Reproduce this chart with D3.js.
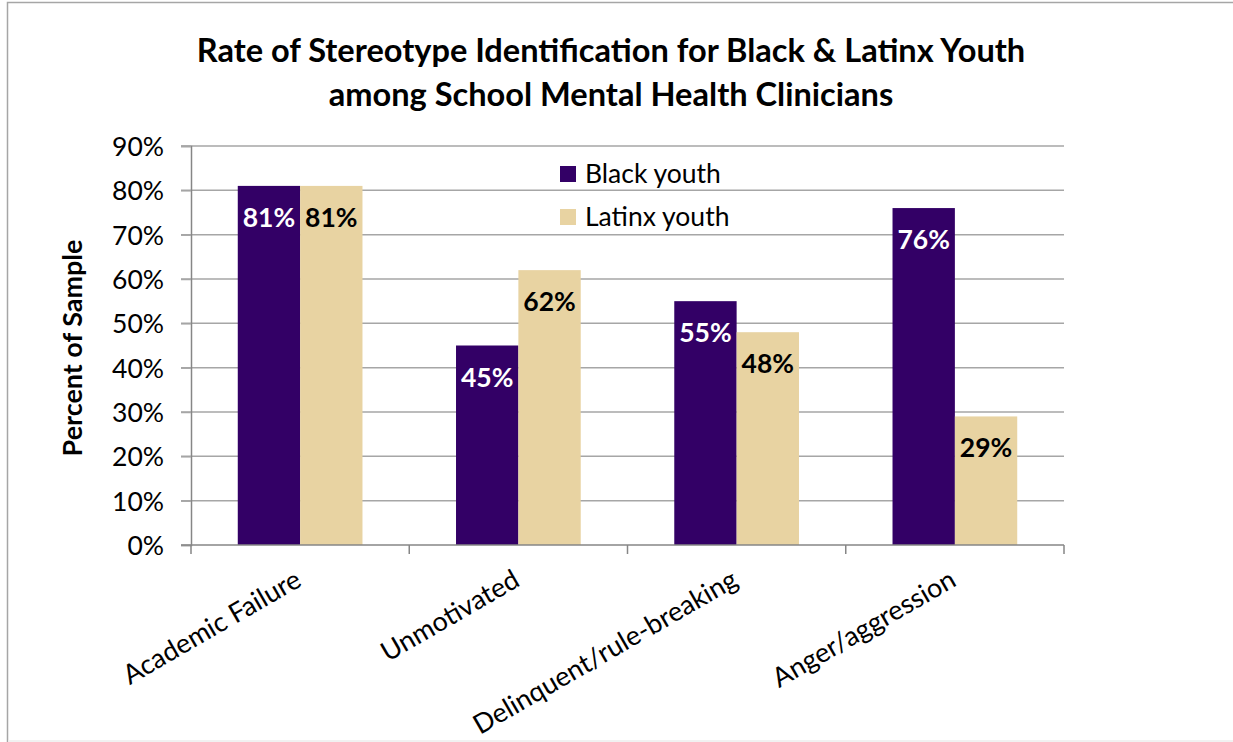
<!DOCTYPE html>
<html><head><meta charset="utf-8">
<script src="https://cdn.jsdelivr.net/npm/d3@7"></script>
<style>body{margin:0;background:#fff}svg{display:block}text{font-family:Lato,"Open Sans",sans-serif}</style>
</head><body><svg id="c" width="1233" height="742"></svg>
<script>
const categories = ["Academic Failure","Unmotivated","Delinquent/rule-breaking","Anger/aggression"];
const seriesNames = ["Black youth","Latinx youth"];
const blackValues = [81,45,55,76];
const latinxValues = [81,62,48,29];
const yTickValues = [0,10,20,30,40,50,60,70,80,90];
const titleLines = ["Rate of Stereotype Identification for Black & Latinx Youth","among School Mental Health Clinicians"];
const yAxisTitle = "Percent of Sample";

const colors = {"Black youth":"#330066","Latinx youth":"#E8D3A2"};
const labelColors = {"Black youth":"#ffffff","Latinx youth":"#000000"};

const svg = d3.select("#c");
svg.append("rect").attr("x",7.5).attr("y",2.5).attr("width",1240).attr("height",760)
  .attr("fill","#fff").attr("stroke","#a6a6a6").attr("stroke-width",1.5);
svg.append("line").attr("x1",8).attr("x2",1233).attr("y1",741).attr("y2",741)
  .attr("stroke","#ececec").attr("stroke-width",1.5);

function fit(sel, w){
  const n = sel.node(); const fs = parseFloat(sel.attr("font-size"));
  const cur = n.getComputedTextLength(); sel.attr("font-size", fs*w/cur);
}

const x = d3.scaleBand().domain(categories).range([191,1064]).paddingInner(0).paddingOuter(0);
const x1 = d3.scaleBand().domain(seriesNames).range([0,x.bandwidth()]).paddingInner(0).paddingOuter(0.75);
const y = d3.scaleLinear().domain([0,90]).range([545,146]);

// gridlines
svg.append("g").selectAll("line").data(yTickValues.filter(d=>d>0)).join("line")
  .attr("x1",181).attr("x2",1064).attr("y1",d=>y(d)).attr("y2",d=>y(d))
  .attr("stroke","#a6a6a6").attr("stroke-width",1.5);

// y axis
const yAxis = svg.append("g").attr("transform","translate(191,0)")
  .call(d3.axisLeft(y).tickValues(yTickValues).tickFormat(d=>d+"%").tickSize(10).tickPadding(17));
yAxis.select(".domain").attr("stroke","#868686").attr("stroke-width",1.5);
yAxis.selectAll(".tick line").attr("stroke","#a6a6a6").attr("stroke-width",1.5);
yAxis.selectAll(".tick text").attr("font-size",26.5).attr("fill","#000").attr("dy","0.36em")
  .style("font-family","Lato");

// bars
const rows = categories.map((c,i)=>({cat:c, vals:[{s:"Black youth",v:blackValues[i]},{s:"Latinx youth",v:latinxValues[i]}]}));
const g = svg.append("g").selectAll("g").data(rows).join("g").attr("transform",d=>`translate(${x(d.cat)},0)`);
g.selectAll("rect").data(d=>d.vals).join("rect")
  .attr("x",d=>x1(d.s)).attr("width",x1.bandwidth())
  .attr("y",d=>y(d.v)).attr("height",d=>y(0)-y(d.v)).attr("fill",d=>colors[d.s]);
g.selectAll("text").data(d=>d.vals).join("text")
  .attr("x",d=>x1(d.s)+x1.bandwidth()/2).attr("y",d=>y(d.v)+41)
  .attr("text-anchor","middle").attr("font-weight","bold").attr("font-size",26.5)
  .attr("fill",d=>labelColors[d.s]).text(d=>d.v+"%");

// x axis
const xAxis = svg.append("g").attr("transform","translate(0,545)");
xAxis.append("line").attr("x1",181).attr("x2",1064).attr("stroke","#868686").attr("stroke-width",1.5);
const bounds = categories.map(c=>x(c)).concat([x.range()[1]]);
xAxis.selectAll("line.t").data(bounds).join("line").attr("class","t")
  .attr("x1",d=>d).attr("x2",d=>d).attr("y1",0).attr("y2",9).attr("stroke","#868686").attr("stroke-width",1.5);
xAxis.selectAll("text").data(categories).join("text")
  .attr("transform",d=>`translate(${x(d)+x.bandwidth()/2+3},${40}) rotate(-30)`)
  .attr("text-anchor","end").attr("font-size",27).attr("fill","#000").text(d=>d);

// title
const tw = [829,565];
titleLines.forEach((t,i)=>{
  const s = svg.append("text").attr("x",611).attr("y",62+i*44).attr("text-anchor","middle")
    .attr("font-weight","bold").attr("font-size",28).attr("fill","#000").text(t);
  fit(s, tw[i]);
});

// y axis title
const yt = svg.append("text").attr("transform","translate(82,348) rotate(-90)").attr("text-anchor","middle")
  .attr("font-weight","bold").attr("font-size",24).attr("fill","#000").text(yAxisTitle);
fit(yt,217);

// legend
const lg = svg.append("g").selectAll("g").data(seriesNames).join("g")
  .attr("transform",(d,i)=>`translate(560,${166+i*43})`);
lg.append("rect").attr("width",16).attr("height",16).attr("fill",d=>colors[d]);
lg.append("text").attr("x",25).attr("y",17).attr("font-size",26.5).attr("fill","#000").text(d=>d);
</script></body></html>
